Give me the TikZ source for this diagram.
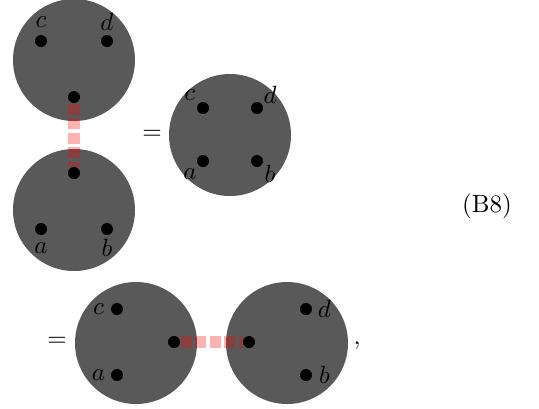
\documentclass[tikz,border=0pt]{standalone}
\usetikzlibrary{positioning}
\definecolor{blobGray}{HTML}{595959}

\begin{document}
\begin{tikzpicture}[
    x=0.4pt, y=-0.4pt,
    blob/.style={circle, fill=blobGray, minimum size=48.8pt, inner sep=0pt},
    leg/.style={circle, fill=black, minimum size=4.8pt, inner sep=0pt},
    lbl/.style={inner sep=0pt, anchor=center},
    glue/.style={draw=red, draw opacity=0.3, line width=4.6pt,
                 dash pattern=on 4.4pt off 1.4pt},
]
\useasboundingbox (0,0) rectangle (539,408);

% two stacked blobs
\node[blob] (up) at (74,60) {};
\node[blob] (dn) at (74,210) {};
\node[leg] (up1) at (41,41) {};
\node[leg] (up2) at (107,41) {};
\node[leg] (up3) at (74,97) {};
\node[leg] (dn1) at (74,173) {};
\node[leg] (dn2) at (41,229) {};
\node[leg] (dn3) at (107,229) {};
\node[above=5pt of up1, lbl] {$c$};
\node[above=5pt of up2, lbl] {$d$};
\node[below=5pt of dn2, lbl] {$a$};
\node[below=5pt of dn3, lbl] {$b$};
\draw[glue] (up3) -- (dn1);

% single blob
\node (eq1) at (152,135) {$=$};
\node[blob] (mid) at (230,135) {};
\node[leg] (m1) at (203,108) {};
\node[leg] (m2) at (257,108) {};
\node[leg] (m3) at (203,161) {};
\node[leg] (m4) at (257,161) {};
\node[above left=3.4pt and 3.4pt of m1, lbl] {$c$};
\node[above right=3.4pt and 3.4pt of m2, lbl] {$d$};
\node[below left=3.4pt and 3.4pt of m3, lbl] {$a$};
\node[below right=3.4pt and 3.4pt of m4, lbl] {$b$};

\node (tag) at (487,206) {(B8)};

% side by side blobs
\node (eq2) at (57,342) {$=$};
\node[blob] (lf) at (136,343) {};
\node[blob] (rt) at (287,343) {};
\node[leg] (lf1) at (117,309) {};
\node[leg] (lf2) at (117,375) {};
\node[leg] (lf3) at (174,342) {};
\node[leg] (rt1) at (249,342) {};
\node[leg] (rt2) at (306,309) {};
\node[leg] (rt3) at (306,375) {};
\node[left=4.8pt of lf1, lbl] {$c$};
\node[left=4.8pt of lf2, lbl] {$a$};
\node[right=4.8pt of rt2, lbl] {$d$};
\node[right=4.8pt of rt3, lbl] {$b$};
\draw[glue] (lf3) -- (rt1);
\node (comma) at (357,346) {$,$};

\end{tikzpicture}
\end{document}
